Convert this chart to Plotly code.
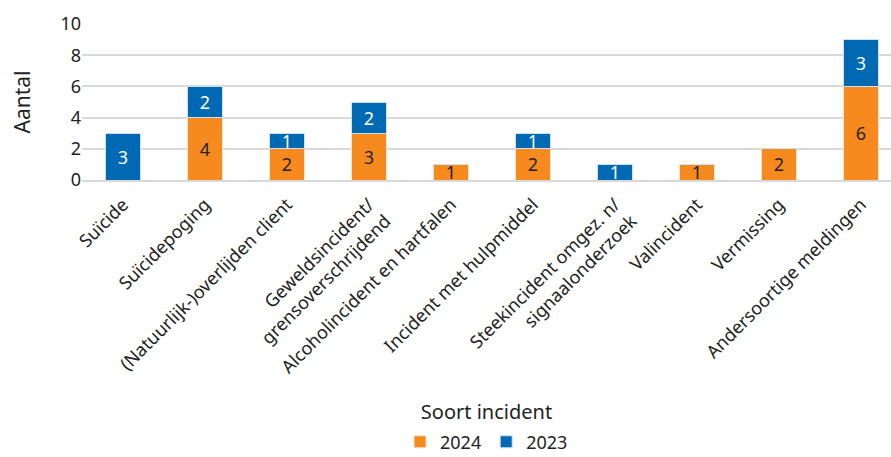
import plotly.graph_objects as go

categories = [
    "Suïcide",
    "Suïcidepoging",
    "(Natuurlijk-)overlijden client",
    "Geweldsincident/<br>grensoverschrijdend",
    "Alcoholincident en hartfalen",
    "Incident met hulpmiddel",
    "Steekincident omgez. n/<br>signaalonderzoek",
    "Valincident",
    "Vermissing",
    "Andersoortige meldingen",
]
values_2024 = [0, 4, 2, 3, 1, 2, 0, 1, 2, 6]
values_2023 = [3, 2, 1, 2, 0, 1, 1, 0, 0, 3]
y_ticks = [0, 2, 4, 6, 8, 10]

FONT = "Noto Sans"
ORANGE = "#F68A1F"
BLUE = "#0069B4"

def labels(vals):
    return [str(v) if v else "" for v in vals]

fig = go.Figure()
fig.add_trace(go.Bar(
    x=categories, y=values_2024, name="2024",
    marker=dict(color=ORANGE, line=dict(color="#FBE3C8", width=1)),
    text=labels(values_2024), textposition="inside", insidetextanchor="middle",
    textfont=dict(color="#222222", size=18, family=FONT),
    textangle=0,
))
fig.add_trace(go.Bar(
    x=categories, y=values_2023, name="2023",
    marker=dict(color=BLUE, line=dict(color="#CFE0F0", width=1)),
    text=labels(values_2023), textposition="inside", insidetextanchor="middle",
    textfont=dict(color="white", size=18, family=FONT),
    textangle=0,
))

fig.update_layout(
    barmode="stack",
    bargap=0.585,
    width=891, height=457,
    margin=dict(l=82, r=0, t=24, b=277, autoexpand=False),
    plot_bgcolor="white", paper_bgcolor="white",
    font=dict(family=FONT, size=18, color="#222222"),
    uniformtext=dict(minsize=10, mode="show"),
    legend=dict(orientation="h", x=0.5, xanchor="center", y=-1.68, yanchor="middle",
                font=dict(size=18), itemwidth=30, traceorder="normal"),
    showlegend=True,
)
fig.update_xaxes(
    range=[-0.5, 9.366],
    tickangle=-45, tickfont=dict(size=18), automargin=False, ticklabelstandoff=5,
    title=dict(text="Soort incident", font=dict(size=20), standoff=28),
    showline=True, linecolor="#d9d9d9", linewidth=2, ticks="",
)
fig.update_yaxes(
    range=[0, 10], tickvals=y_ticks, tickfont=dict(size=18), automargin=False,
    title=dict(text="Aantal", font=dict(size=21), standoff=24),
    showgrid=True, gridcolor="#d9d9d9", gridwidth=2, zeroline=False,
    ticks="", ticklen=0,
)

fig.write_html(
    "out.html",
    config={"displayModeBar": False},
    post_script=(
        "document.documentElement.style.margin='0';"
        "document.documentElement.style.overflow='hidden';"
        "document.body.style.margin='0';"
        "document.body.style.overflow='hidden';"
        "document.body.style.height='457px';"
    ),
)
